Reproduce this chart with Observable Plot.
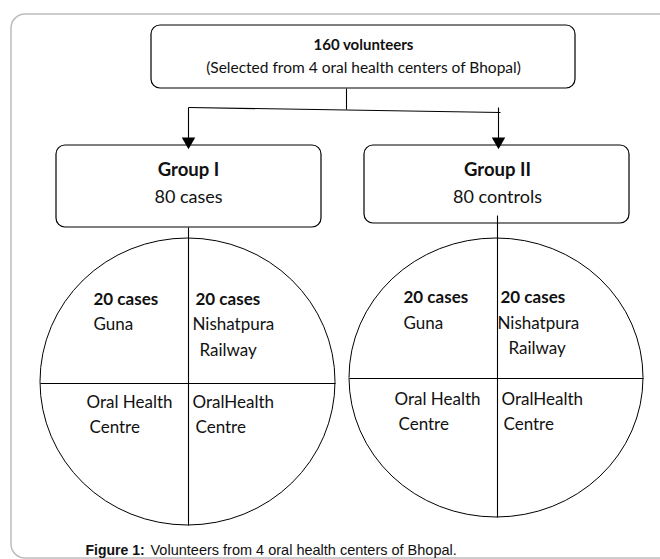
<!DOCTYPE html>
<html>
<head>
<meta charset="utf-8">
<script src="https://cdn.jsdelivr.net/npm/d3@7"></script>
<script src="https://cdn.jsdelivr.net/npm/@observablehq/plot@0.6"></script>
<style>
  html, body { margin: 0; padding: 0; background: #fff; }
  svg { display: block; }
</style>
</head>
<body>
<div id="chart"></div>
<script>
// Diagram boxes (rounded rectangles)
const boxes = [
  {name: "top", x1: 151, x2: 575, y1: 25, y2: 88},
  {name: "group1", x1: 56, x2: 321, y1: 145, y2: 227},
  {name: "group2", x1: 364, x2: 629, y1: 145, y2: 223}
];
// Ellipses (circles split into quadrants)
const circles = [
  {name: "circle1", x1: 40, x2: 335, y1: 238, y2: 525},
  {name: "circle2", x1: 349, x2: 643, y1: 238, y2: 517}
];
// Connector and divider lines
const lines = [
  {x1: 346, y1: 88, x2: 346, y2: 109},
  {x1: 188, y1: 107, x2: 500, y2: 112},
  {x1: 188, y1: 107, x2: 188, y2: 140},
  {x1: 498, y1: 107, x2: 498, y2: 140},
  {x1: 188, y1: 227, x2: 188, y2: 525},
  {x1: 497, y1: 215, x2: 497, y2: 517},
  {x1: 40, y1: 383, x2: 335, y2: 383},
  {x1: 349, y1: 378, x2: 643, y2: 378}
];
// Arrow heads
const arrowHeads = [
  {x: 188, y: 141},
  {x: 498, y: 141}
];
// Labels
const topBold = [{text: "160 volunteers", x: 363, y: 45}];
const topPlain = [{text: "(Selected from 4 oral health centers of Bhopal)", x: 363, y: 68}];
const groupBold = [
  {text: "Group I", x: 188, y: 170},
  {text: "Group II", x: 497, y: 170}
];
const groupPlain = [
  {text: "80 cases", x: 188, y: 197},
  {text: "80 controls", x: 497, y: 197}
];
const quadBold = [
  {text: "20 cases", x: 93, y: 299},
  {text: "20 cases", x: 195, y: 299},
  {text: "20 cases", x: 403, y: 297},
  {text: "20 cases", x: 500, y: 297}
];
const quadPlain = [
  {text: "Guna", x: 93, y: 324},
  {text: "Nishatpura", x: 192, y: 324},
  {text: "Railway", x: 199, y: 350},
  {text: "Oral Health", x: 86, y: 402},
  {text: "Centre", x: 89, y: 427},
  {text: "OralHealth", x: 192, y: 402},
  {text: "Centre", x: 195, y: 427},
  {text: "Guna", x: 403, y: 323},
  {text: "Nishatpura", x: 497, y: 323},
  {text: "Railway", x: 508, y: 348},
  {text: "Oral Health", x: 394, y: 399},
  {text: "Centre", x: 398, y: 424},
  {text: "OralHealth", x: 501, y: 399},
  {text: "Centre", x: 503, y: 424}
];
const captionBold = [{text: "Figure 1:", x: 85, y: 550}];
const captionPlain = [{text: "Volunteers from 4 oral health centers of Bhopal.", x: 150, y: 550}];
const frame = [{x1: 11, x2: 720, y1: 14, y2: 558}];

const calibri = "Lato, 'Open Sans', sans-serif";
const arial = "'Liberation Sans', Arial, sans-serif";

const txt = (data, opts) => Plot.text(data, {x: "x", y: "y", text: "text", fill: "#111", ...opts});

const plot = Plot.plot({
  width: 660,
  height: 559,
  margin: 0,
  x: {type: "linear", domain: [0, 660], range: [0, 660], axis: null},
  y: {type: "linear", domain: [0, 559], range: [0, 559], axis: null},
  style: {background: "#fff", overflow: "hidden"},
  marks: [
    Plot.rect(frame, {x1: "x1", x2: "x2", y1: "y1", y2: "y2", fill: "none", stroke: "#bdbdbd", strokeWidth: 1.5, rx: 14}),
    Plot.rect(boxes, {x1: "x1", x2: "x2", y1: "y1", y2: "y2", fill: "#fff", stroke: "#000", strokeWidth: 1.2, rx: 9}),
    Plot.rect(circles, {x1: "x1", x2: "x2", y1: "y1", y2: "y2", fill: "none", stroke: "#000", strokeWidth: 1, rx: 400, ry: 400}),
    Plot.link(lines, {x1: "x1", y1: "y1", x2: "x2", y2: "y2", stroke: "#000", strokeWidth: 1.1}),
    Plot.dot(arrowHeads, {x: "x", y: "y", symbol: "triangle", r: 5, rotate: 180, fill: "#000", stroke: "none"}),
    txt(topBold, {fontSize: 15, fontWeight: "bold", textAnchor: "middle", fontFamily: calibri}),
    txt(topPlain, {fontSize: 15.5, textAnchor: "middle", fontFamily: calibri}),
    txt(groupBold, {fontSize: 18.5, fontWeight: "bold", textAnchor: "middle", fontFamily: calibri}),
    txt(groupPlain, {fontSize: 18, textAnchor: "middle", fontFamily: calibri}),
    txt(quadBold, {fontSize: 17, fontWeight: "bold", textAnchor: "start", fontFamily: calibri}),
    txt(quadPlain, {fontSize: 17, textAnchor: "start", fontFamily: calibri}),
    txt(captionBold, {fontSize: 14, fontWeight: "bold", textAnchor: "start", fontFamily: arial}),
    txt(captionPlain, {fontSize: 14.5, textAnchor: "start", fontFamily: arial})
  ]
});
document.getElementById("chart").appendChild(plot);
</script>
</body>
</html>
